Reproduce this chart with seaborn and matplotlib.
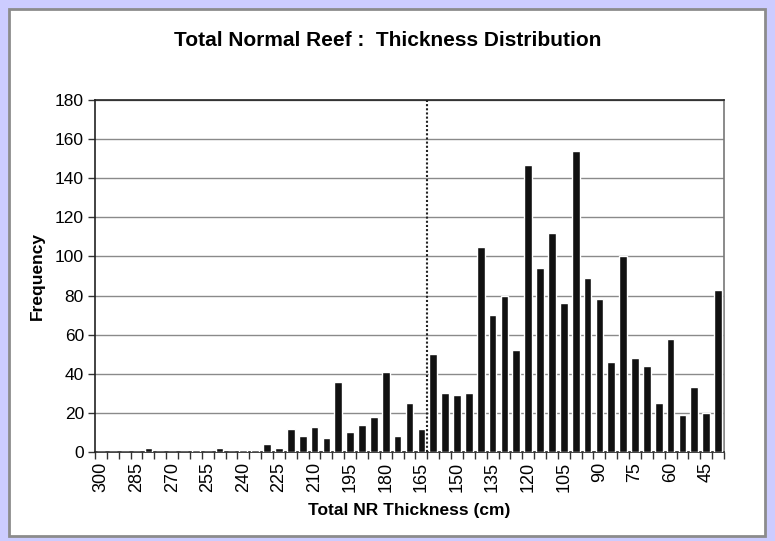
import numpy as np
import pandas as pd
import matplotlib
matplotlib.use("Agg")
import matplotlib.pyplot as plt
import matplotlib.patches as mpatches
import seaborn as sns

# ── data: thickness bins (cm) and counts ─────────────────────────────────────
thickness = list(range(300, 35, -5))          # 300 .. 40, 53 bins
frequency = [0, 0, 0, 0, 2, 0, 0, 0, 1, 0,
             2, 0, 1, 1, 4, 2, 12, 8, 13, 7,
             36, 10, 14, 18, 41, 8, 25, 12, 50, 30,
             29, 30, 105, 70, 80, 52, 147, 94, 112, 76,
             154, 89, 78, 46, 100, 48, 44, 25, 58, 19,
             33, 20, 83]
tick_labels = [str(t) for t in thickness[::3]]  # 300, 285, ..., 45
cutoff_bin = 27.5                               # between 165 and 160

sns.set_theme(style="white")
plt.rcParams["font.family"] = ["Liberation Sans", "DejaVu Sans"]
plt.rcParams["text.color"] = "black"
plt.rcParams["axes.labelcolor"] = "black"
plt.rcParams["xtick.color"] = "black"
plt.rcParams["ytick.color"] = "black"

df = pd.DataFrame({"thickness": [str(t) for t in thickness],
                   "frequency": frequency})

fig = plt.figure(figsize=(7.75, 5.41), dpi=100)
fig.patch.set_facecolor("#CCCCFF")
panel = mpatches.Rectangle((9 / 775, 1 - 536 / 541), 756 / 775, 527 / 541,
                           transform=fig.transFigure, facecolor="white",
                           edgecolor="#8C8C8C", linewidth=2, zorder=-1)
fig.patches.append(panel)

ax = fig.add_axes([95 / 775, 1 - 452 / 541, 629 / 775, 352 / 541])
ax.set_facecolor("white")
sns.barplot(data=df, x="thickness", y="frequency", order=df["thickness"],
            color="#111111", width=0.65, saturation=1, ax=ax, zorder=3)

ax.set_xlim(-0.5, len(thickness) - 0.5)
ax.set_ylim(0, 180)
ax.set_yticks(np.arange(0, 181, 20))
ax.yaxis.grid(True, color="#8A8A8A", linewidth=1)
ax.set_axisbelow(True)

ax.set_xticks(np.arange(0, len(thickness), 3))
ax.set_xticklabels(tick_labels, rotation=90, fontsize=13)
ax.set_xticks(np.arange(-0.5, len(thickness), 1), minor=True)
ax.tick_params(axis="x", which="major", length=0, pad=7)
ax.tick_params(axis="x", which="minor", length=5, width=1, color="#333333",
               direction="out", bottom=True)
ax.tick_params(axis="y", length=5, width=1, color="#333333", direction="out",
               left=True, labelsize=12.5, pad=3)

ax.axvline(cutoff_bin, color="#222222", linestyle=(0, (1, 1)), linewidth=1.5,
           zorder=4)

for side in ["left", "bottom", "top"]:
    ax.spines[side].set_color("#222222")
    ax.spines[side].set_linewidth(1.2)
ax.spines["right"].set_color("#777777")
ax.spines["right"].set_linewidth(1.2)

ax.set_xlabel("Total NR Thickness (cm)", fontsize=12.5, fontweight="bold",
              labelpad=8)
ax.set_ylabel("Frequency", fontsize=12.5, fontweight="bold", labelpad=7)
fig.text(388 / 775, 1 - 40 / 541, "Total Normal Reef :  Thickness Distribution",
         ha="center", va="center", fontsize=15, fontweight="bold")

fig.savefig("out.png", dpi=100, facecolor=fig.get_facecolor())
